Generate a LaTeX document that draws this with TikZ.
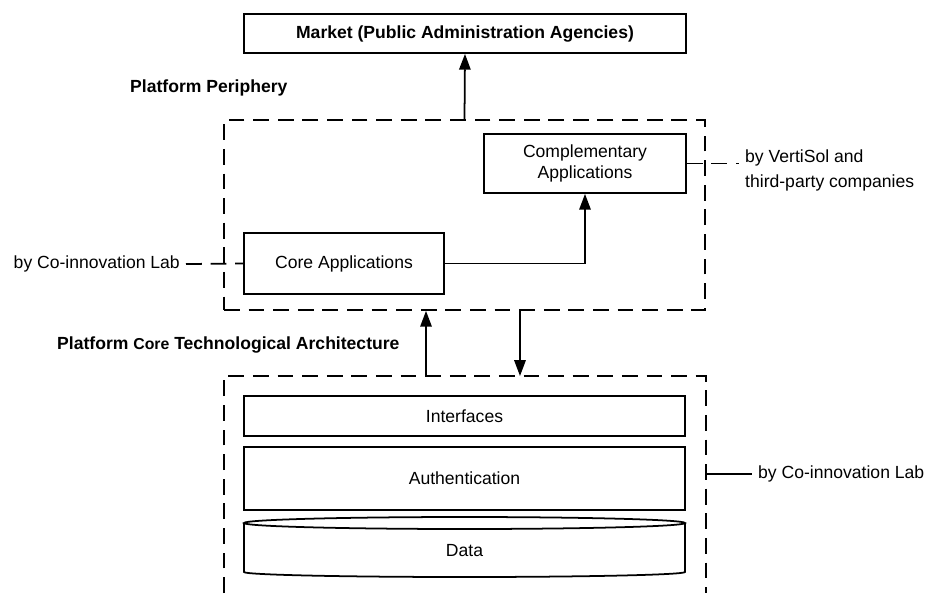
\documentclass[tikz,border=0pt]{standalone}
\usepackage{fontspec}
\setmainfont{Liberation Sans}
\usetikzlibrary{arrows.meta}
\tikzset{
	box/.style={draw, line width=1pt, fill=white, inner sep=0pt},
	dashframe/.style={draw, line width=1pt, dash pattern=on 9pt off 5pt},
	linkdash/.style={line width=1pt, dash pattern=on 9pt off 5pt},
	arr/.style={line width=1pt, -{Triangle[length=9pt,width=6.5pt]}},
	title/.style={font=\bfseries, anchor=west},
}

\begin{document}
\begin{tikzpicture}[x=0.02cm, y=-0.02cm]
	\useasboundingbox (0,0) rectangle (927,593);
	\node[box, minimum width=8.84cm, minimum height=0.78cm, font=\bfseries] (market) at (465,33.5) {Market (Public Administration Agencies)};
	\node[title] (periphtitle) at (124,88) {Platform Periphery};
	\node[dashframe, minimum width=9.62cm, minimum height=3.8cm] (periph) at (464.5,215) {};
	\node[box, minimum width=4.04cm, minimum height=1.18cm, align=center] (comp) at (585,163.5) {Complementary\\Applications};
	\node[box, minimum width=4cm, minimum height=1.22cm] (core) at (344,263.5) {Core Applications};
	\node[anchor=east] (corelab) at (186,264) {by Co-innovation Lab};
	\node[anchor=west, align=left, font=\fontsize{10pt}{14pt}\selectfont] (complab) at (739,170.5) {by VertiSol and\\third-party companies};
	\node[title] (archtitle) at (51,345) {Platform {\small Core} Technological Architecture};
	\draw[dashframe] (224,593) |- (706,376) -- (706,593);
	\coordinate (archtop) at (464.5,376);
	\coordinate (archne) at (706,376);
	\node[box, minimum width=8.82cm, minimum height=0.8cm] (interfaces) at (464.5,416) {Interfaces};
	\node[box, minimum width=8.82cm, minimum height=1.26cm] (auth) at (464.5,478.5) {Authentication};
	\node (data) at (464.5,551) {Data};
	\draw[line width=1pt] (464.5,523) ellipse [x radius=4.41cm, y radius=0.12cm];
	\draw[line width=1pt] (244,523) -- (244,572) arc[start angle=180, end angle=360, x radius=4.41cm, y radius=0.1cm] -- (685,523);
	\node[anchor=west] (archlab) at (752,474) {by Co-innovation Lab};
	\draw[arr] (periph.north) -- (market.south);
	\draw[arr] (core.east) -| (comp.south);
	\draw[arr] ([xshift=-0.77cm]archtop) -- ([xshift=-0.77cm]periph.south);
	\draw[arr] ([xshift=1.11cm]periph.south) -- ([xshift=1.11cm]archtop);
	\draw[linkdash] (corelab.east) -- (core.west);
	\draw[linkdash] (comp.east) -- (comp.east -| complab.west);
	\draw[line width=1pt] (archlab.west -| archne) -- (archlab.west);
\end{tikzpicture}
\end{document}
